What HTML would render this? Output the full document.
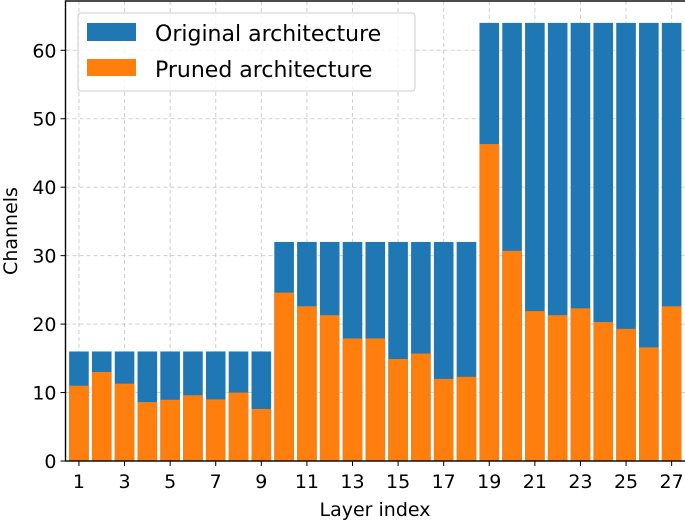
<!DOCTYPE html>
<html><head><meta charset="utf-8"><style>
body{margin:0;background:#fff;}
svg{display:block;font-family:"DejaVu Sans","Liberation Sans",sans-serif;}
</style></head><body>
<svg id="chart" width="685" height="520"></svg>
<script>
const layers=[1,2,3,4,5,6,7,8,9,10,11,12,13,14,15,16,17,18,19,20,21,22,23,24,25,26,27];
const original=[16,16,16,16,16,16,16,16,16,32,32,32,32,32,32,32,32,32,64,64,64,64,64,64,64,64,64];
const pruned=[11.0,13.0,11.3,8.6,8.95,9.6,9.0,10.0,7.6,24.6,22.6,21.3,17.9,17.9,14.9,15.7,12.0,12.3,46.3,30.7,21.9,21.3,22.3,20.3,19.3,16.6,22.6];
const yTicks=[0,10,20,30,40,50,60];
const xTicks=[1,3,5,7,9,11,13,15,17,19,21,23,25,27];
const NS='http://www.w3.org/2000/svg';
const svg=document.getElementById('chart');
const L=65.5,R=686,T=1,B=461;
const xmin=0.41,xmax=27.63,ymin=0,ymax=67.2;
const xs=v=>L+(v-xmin)/(xmax-xmin)*(R-L);
const ys=v=>B-(v-ymin)/(ymax-ymin)*(B-T);
function mk(tag,attrs,parent){const e=document.createElementNS(NS,tag);for(const k in attrs)e.setAttribute(k,attrs[k]);(parent||svg).appendChild(e);return e;}
const grid=mk('g',{});


yTicks.forEach(t=>mk('line',{x1:L,x2:R,y1:ys(t),y2:ys(t),stroke:'#b0b0b0','stroke-width':1,'stroke-dasharray':'4,3',opacity:0.6},grid));
xTicks.forEach(t=>mk('line',{x1:xs(t),x2:xs(t),y1:T,y2:B,stroke:'#b0b0b0','stroke-width':1,'stroke-dasharray':'4,3',opacity:0.6},grid));
const bw=0.86*(xs(1)-xs(0));
layers.forEach((l,i)=>{
  const b1=mk('rect',{x:xs(l)-bw/2,y:ys(original[i]),width:bw,height:ys(0)-ys(original[i]),fill:'#1f77b4'});
  
  
  const b2=mk('rect',{x:xs(l)-bw/2,y:ys(pruned[i]),width:bw,height:ys(0)-ys(pruned[i]),fill:'#ff7f0e'});
  
  
});
const ax=mk('g',{});


mk('rect',{x:L,y:T,width:R-L,height:B-T,fill:'none',stroke:'#000','stroke-width':1.4},ax);
yTicks.forEach(t=>{mk('line',{x1:L-5,x2:L,y1:ys(t),y2:ys(t),stroke:'#000'},ax);
  const tx=mk('text',{x:L-9,y:ys(t)+7,'text-anchor':'end','font-size':19},ax);tx.textContent=t;
  
  });
xTicks.forEach(t=>{mk('line',{x1:xs(t),x2:xs(t),y1:B,y2:B+5,stroke:'#000'},ax);
  const tx=mk('text',{x:xs(t),y:B+27,'text-anchor':'middle','font-size':19},ax);tx.textContent=t;
  
  });
const xt=mk('text',{x:375,y:516,'text-anchor':'middle','font-size':19});xt.textContent='Layer index';


const yt=mk('text',{x:17,y:231,'text-anchor':'middle','font-size':19,transform:'rotate(-90 17 231)'});yt.textContent='Channels';


const lg=mk('g',{});


mk('rect',{x:78,y:13,width:337,height:78,rx:3,fill:'#fff','fill-opacity':0.8,stroke:'#ccc'},lg);
mk('rect',{x:87,y:23,width:49,height:18,fill:'#1f77b4'},lg);
mk('rect',{x:87,y:59,width:49,height:17,fill:'#ff7f0e'},lg);
const l1=mk('text',{x:155,y:41,'font-size':22},lg);l1.textContent='Original architecture';


const l2=mk('text',{x:155,y:77,'font-size':22},lg);l2.textContent='Pruned architecture';


</script>
</body></html>
